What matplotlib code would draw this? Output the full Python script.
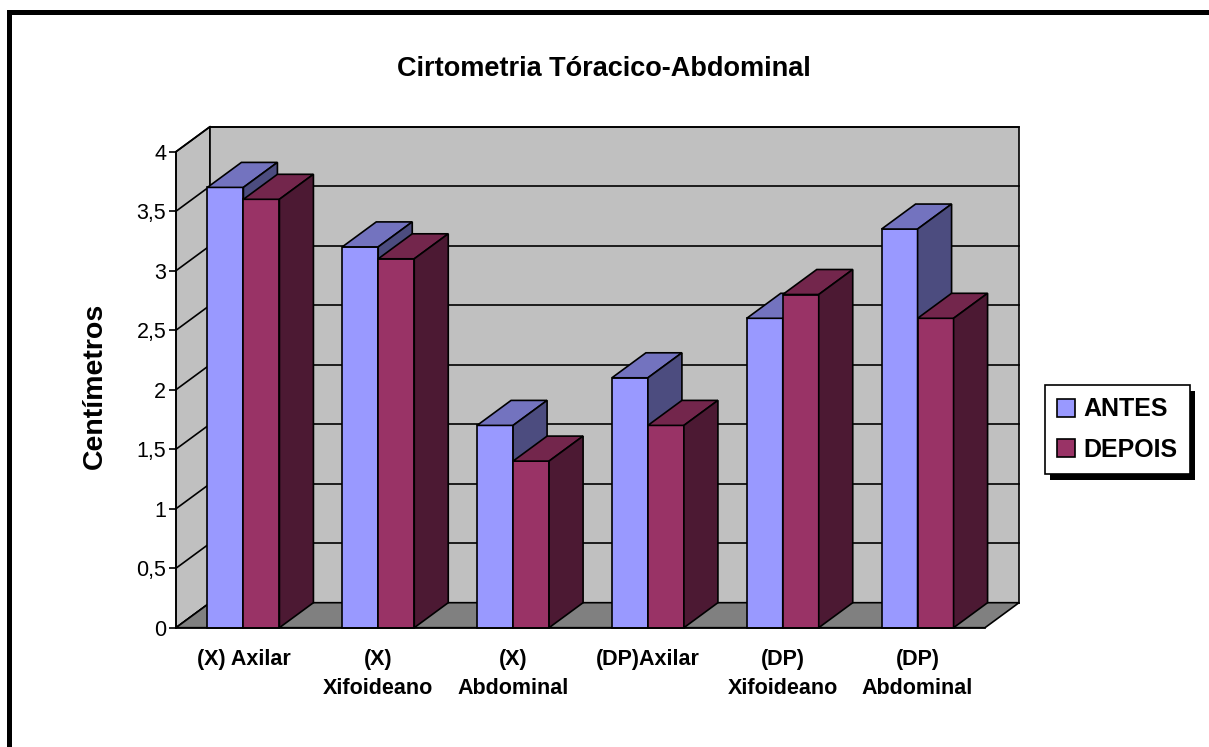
import matplotlib
matplotlib.use("Agg")
import matplotlib.pyplot as plt
from matplotlib.patches import Polygon, Rectangle
from matplotlib.lines import Line2D
from matplotlib.ticker import FuncFormatter

plt.rcParams['font.family'] = ['Liberation Sans', 'DejaVu Sans']

# dados da cirtometria
categorias = ['(X) Axilar', '(X)\nXifoideano', '(X)\nAbdominal',
              '(DP)Axilar', '(DP)\nXifoideano', '(DP)\nAbdominal']
antes = [3.7, 3.2, 1.7, 2.1, 2.6, 3.35]
depois = [3.6, 3.1, 1.4, 1.7, 2.8, 2.6]
series = ['ANTES', 'DEPOIS']
yticks = [0, 0.5, 1, 1.5, 2, 2.5, 3, 3.5, 4]

# cores: frente, topo, lado
cores = {
    'ANTES': ('#9999FF', '#7373BF', '#4C4C7F'),
    'DEPOIS': ('#993366', '#73264C', '#4C1933'),
}
parede = '#C0C0C0'
piso = '#808080'

W, H = 1209, 747
fig = plt.figure(figsize=(W / 100, H / 100), dpi=100, facecolor='white')

# eixo frontal: valor 0 em y=627.7 px, 4 em y=151.7 px
ax = fig.add_axes([176 / W, (H - 627.7) / H, 809 / W, 476 / H])
ax.set_xlim(-0.5, len(categorias) - 0.5)
ax.set_ylim(0, 4)
ax.patch.set_visible(False)

# profundidade da perspectiva em unidades de dados
dx = 34 / (809 / len(categorias))
dy = 25 / 119.0
lw = 1.2
x0, x1 = -0.5, len(categorias) - 0.5

# parede lateral e parede do fundo
ax.add_patch(Polygon([(x0, 0), (x0, 4), (x0 + dx, 4 + dy), (x0 + dx, dy)],
                     closed=True, facecolor=parede, edgecolor='black',
                     lw=lw, clip_on=False, zorder=1))
ax.add_patch(Rectangle((x0 + dx, dy), x1 - x0, 4, facecolor=parede,
                       edgecolor='black', lw=lw, clip_on=False, zorder=1))

# linhas de grade
for v in yticks:
    ax.add_line(Line2D([x0 + dx, x1 + dx], [v + dy, v + dy], color='black',
                       lw=lw, clip_on=False, zorder=1.5))
    ax.add_line(Line2D([x0, x0 + dx], [v, v + dy], color='black',
                       lw=lw, clip_on=False, zorder=1.5))

# piso
ax.add_patch(Polygon([(x0, 0), (x1, 0), (x1 + dx, dy), (x0 + dx, dy)],
                     closed=True, facecolor=piso, edgecolor='black',
                     lw=lw, clip_on=False, zorder=2))


def barra_3d(x, largura, altura, cor, z):
    frente, topo, lado = cor
    ax.add_patch(Rectangle((x, 0), largura, altura, facecolor=frente,
                           edgecolor='black', lw=lw, clip_on=False, zorder=z))
    ax.add_patch(Polygon([(x, altura), (x + largura, altura),
                          (x + largura + dx, altura + dy), (x + dx, altura + dy)],
                         closed=True, facecolor=topo, edgecolor='black',
                         lw=lw, clip_on=False, zorder=z))
    ax.add_patch(Polygon([(x + largura, 0), (x + largura, altura),
                          (x + largura + dx, altura + dy), (x + largura + dx, dy)],
                         closed=True, facecolor=lado, edgecolor='black',
                         lw=lw, clip_on=False, zorder=z))


larg = 0.267
z = 3
for i in range(len(categorias)):
    barra_3d(i - larg, larg, antes[i], cores['ANTES'], z)
    z += 0.1
    barra_3d(i, larg, depois[i], cores['DEPOIS'], z)
    z += 0.1

# eixos
for s in ['top', 'right']:
    ax.spines[s].set_visible(False)
ax.spines['left'].set_linewidth(lw)
ax.spines['bottom'].set_linewidth(lw)
ax.spines['left'].set_zorder(10)
ax.spines['bottom'].set_zorder(10)

ax.set_yticks(yticks)
ax.yaxis.set_major_formatter(FuncFormatter(lambda v, p: ('%g' % v).replace('.', ',')))
ax.tick_params(axis='y', length=5, width=lw, labelsize=15.5, pad=2)
ax.set_xticks(range(len(categorias)))
ax.set_xticklabels(categorias, fontsize=15.5, fontweight='bold', linespacing=1.5)
ax.tick_params(axis='x', length=0, pad=15)

# titulo e rotulo do eixo
fig.text(604 / W, 1 - 69 / H, 'Cirtometria Tóracico-Abdominal',
         ha='center', va='center', fontsize=19.5, fontweight='bold')
fig.text(95 / W, 1 - 386 / H, 'Centímetros', rotation=90, ha='center',
         va='center', fontsize=20.5, fontweight='bold')

# legenda
handles = [Line2D([], [], ls='none', marker='s', markersize=12.5,
                  markerfacecolor=cores[s][0], markeredgecolor='black',
                  markeredgewidth=1.2) for s in series]
leg = fig.legend(handles, series, loc='upper left',
                 bbox_to_anchor=(1045 / W, 1 - 385 / H),
                 bbox_transform=fig.transFigure, borderaxespad=0,
                 frameon=True, fancybox=False, edgecolor='black',
                 framealpha=1, prop={'size': 18, 'weight': 'bold'},
                 handlelength=0.7, handletextpad=0.35, borderpad=0.5,
                 labelspacing=0.65)
leg.get_frame().set_linewidth(lw)
leg.set_zorder(5)

# sombra da legenda
fig.canvas.draw()
bb = leg.get_window_extent().transformed(fig.transFigure.inverted())
fig.add_artist(Rectangle((bb.x0 + 5 / W, bb.y0 - 6 / H), bb.width, bb.height,
                         transform=fig.transFigure, facecolor='black',
                         edgecolor='none', zorder=4))

# moldura externa
fig.add_artist(Rectangle((8.5 / W, -0.1), 1.2, 1.1 - 11.5 / H,
                         transform=fig.transFigure, fill=False,
                         edgecolor='black', lw=3.6, zorder=20))

fig.savefig('out.png', dpi=100, facecolor='white')
